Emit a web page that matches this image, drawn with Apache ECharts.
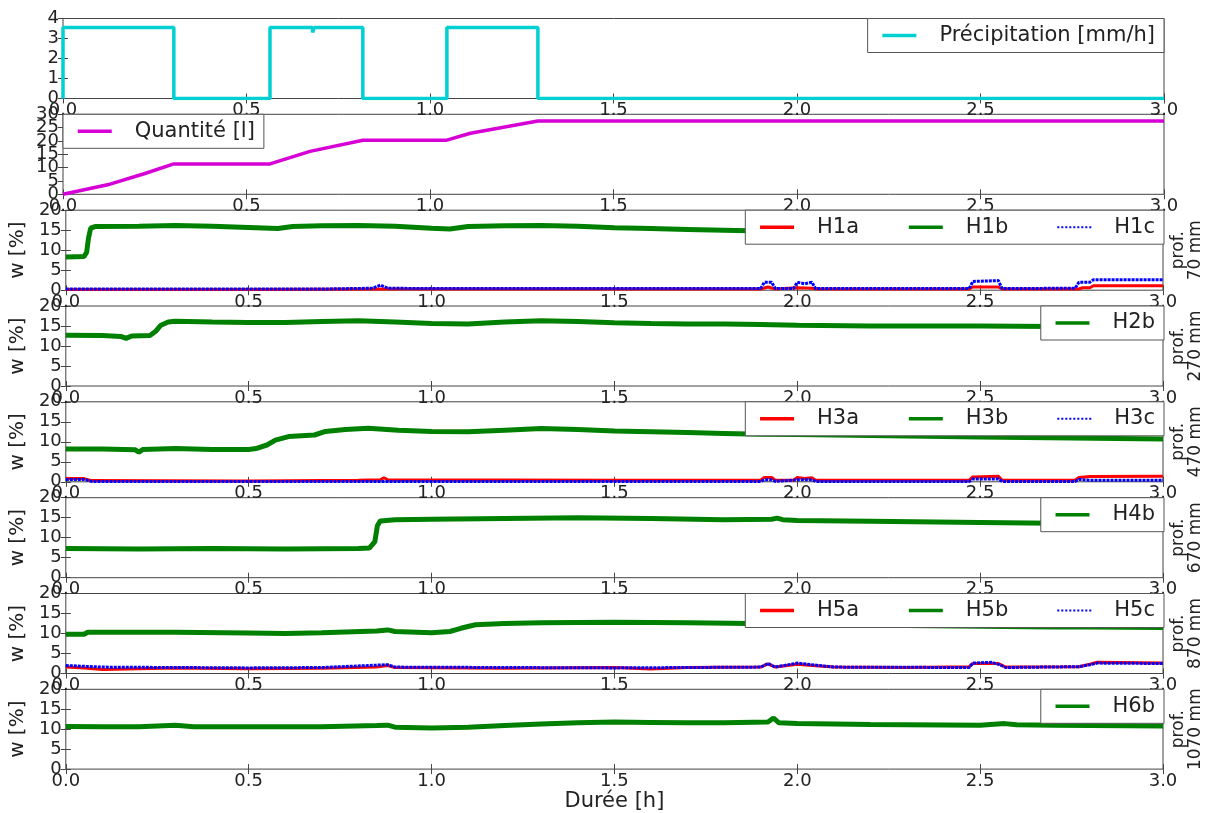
<!DOCTYPE html>
<html><head><meta charset="utf-8">
<script src="https://cdn.jsdelivr.net/npm/echarts@6/dist/echarts.min.js"></script>
<style>html,body{margin:0;padding:0;background:#fff}#c{width:1212px;height:813px}</style>
</head><body><div id="c"></div>
<script>
// ---------- DATA (time [h], value) ----------
const xTickLabels = ['0.0','0.5','1.0','1.5','2.0','2.5','3.0'];
const precipitation = [[0,0],[0,3.55],[0.302,0],[0.564,3.55],[0.68,3.3],[0.685,3.55],[0.817,0],[1.046,3.55],[1.294,0],[3,0]];
const quantite = [[0,0],[0.128,3.8],[0.219,7.6],[0.302,11.4],[0.564,11.4],[0.673,16.1],[0.817,20.3],[1.046,20.3],[1.11,22.9],[1.294,27.5],[3,27.5]];

const H1a = [[0,0.2],[0.5,0.2],[0.9,0.3],[1.5,0.3],[1.9,0.3],[1.92,0.8],[1.94,0.3],[2.0,0.6],[2.04,0.5],[2.06,0.3],[2.47,0.3],[2.48,0.8],[2.55,0.8],[2.56,0.3],[2.77,0.3],[2.78,0.6],[2.8,0.6],[2.81,1.1],[3.0,1.1]];
const H1b = [[0,8.3],[0.05,8.4],[0.057,9.5],[0.062,13],[0.068,15.5],[0.08,15.9],[0.2,16.0],[0.3,16.2],[0.4,16.0],[0.5,15.7],[0.58,15.4],[0.62,15.9],[0.7,16.1],[0.8,16.2],[0.9,16.0],[1.0,15.5],[1.05,15.3],[1.1,15.9],[1.2,16.1],[1.3,16.2],[1.4,16.0],[1.5,15.6],[1.6,15.4],[1.7,15.2],[1.8,15.0],[1.9,14.8],[2.0,14.7],[2.5,14.4],[3.0,14.2]];
const H1c = [[0,0.3],[0.7,0.3],[0.84,0.5],[0.86,1.3],[0.88,0.5],[1.0,0.4],[1.5,0.4],[1.9,0.4],[1.91,2.0],[1.93,2.0],[1.94,0.4],[1.99,0.4],[2.0,2.0],[2.02,1.6],[2.04,2.0],[2.05,0.4],[2.47,0.4],[2.48,2.2],[2.55,2.4],[2.56,0.4],[2.76,0.5],[2.77,2.0],[2.8,2.0],[2.81,2.6],[3.0,2.6]];

const H2b = [[0,12.7],[0.1,12.6],[0.15,12.4],[0.165,11.9],[0.18,12.5],[0.23,12.6],[0.245,13.6],[0.26,15.2],[0.28,16.0],[0.3,16.2],[0.4,16.0],[0.5,15.9],[0.6,15.9],[0.7,16.1],[0.8,16.3],[0.9,16.0],[1.0,15.6],[1.1,15.5],[1.2,16.0],[1.3,16.3],[1.4,16.1],[1.5,15.8],[1.6,15.6],[1.7,15.5],[1.8,15.5],[1.9,15.4],[2.0,15.2],[2.2,15.0],[2.5,15.0],[2.7,14.9],[3.0,14.8]];

const H3a = [[0,0.8],[0.05,0.8],[0.07,0.3],[0.5,0.2],[0.8,0.4],[0.86,0.5],[0.87,1.0],[0.88,0.5],[1.5,0.4],[1.9,0.4],[1.91,1.1],[1.93,1.1],[1.94,0.4],[1.99,0.4],[2.0,1.1],[2.02,0.8],[2.04,1.0],[2.05,0.4],[2.47,0.4],[2.48,1.2],[2.55,1.4],[2.56,0.4],[2.76,0.4],[2.77,1.1],[2.8,1.3],[3.0,1.4]];
const H3b = [[0,8.2],[0.1,8.2],[0.19,8.0],[0.2,7.4],[0.21,8.1],[0.3,8.3],[0.4,8.1],[0.5,8.1],[0.52,8.3],[0.55,9.2],[0.573,10.4],[0.609,11.3],[0.68,11.7],[0.71,12.6],[0.764,13.1],[0.827,13.4],[0.909,12.9],[1.0,12.6],[1.1,12.5],[1.2,12.9],[1.3,13.3],[1.4,13.1],[1.5,12.7],[1.6,12.5],[1.7,12.3],[1.8,12.1],[1.9,11.9],[2.0,11.8],[2.5,11.2],[3.0,10.7]];
const H3c = [[0,0.6],[0.05,0.6],[0.07,0.1],[1.9,0.1],[1.91,0.5],[1.93,0.5],[1.94,0.1],[2.0,0.5],[2.04,0.5],[2.05,0.1],[2.47,0.1],[2.48,0.7],[2.55,0.7],[2.56,0.1],[2.76,0.1],[2.77,0.6],[2.8,0.4],[3.0,0.4]];

const H4b = [[0,7.3],[0.2,7.2],[0.4,7.3],[0.6,7.2],[0.8,7.3],[0.83,7.4],[0.845,9],[0.852,13],[0.86,14.2],[0.9,14.5],[1.0,14.6],[1.2,14.8],[1.4,15.0],[1.6,14.8],[1.8,14.5],[1.93,14.6],[1.945,14.9],[1.96,14.5],[2.0,14.3],[2.2,14.1],[2.5,13.8],[2.7,13.6],[3.0,13.4]];

const H5a = [[0,1.6],[0.05,1.4],[0.1,1.0],[0.2,1.2],[0.3,1.4],[0.5,1.2],[0.7,1.3],[0.85,1.6],[0.88,2.0],[0.9,1.5],[1.2,1.3],[1.5,1.5],[1.6,1.1],[1.7,1.5],[1.9,1.6],[1.92,2.4],[1.94,1.6],[2.0,2.3],[2.04,2.0],[2.1,1.6],[2.3,1.5],[2.47,1.7],[2.48,2.5],[2.55,2.5],[2.57,1.6],[2.77,1.7],[2.8,2.3],[2.82,2.8],[3.0,2.6]];
const H5b = [[0,9.8],[0.05,9.8],[0.06,10.3],[0.3,10.3],[0.5,10.1],[0.6,10.0],[0.7,10.2],[0.85,10.6],[0.88,10.9],[0.9,10.5],[1.0,10.2],[1.05,10.5],[1.08,11.3],[1.12,12.2],[1.2,12.5],[1.3,12.7],[1.5,12.8],[1.7,12.7],[1.87,12.5],[2.0,12.3],[2.3,12.0],[2.5,11.8],[2.7,11.6],[2.8,11.6],[3.0,11.5]];
const H5c = [[0,2.0],[0.05,1.8],[0.1,1.6],[0.3,1.5],[0.5,1.4],[0.7,1.5],[0.88,2.2],[0.9,1.6],[1.2,1.5],[1.5,1.4],[1.9,1.6],[1.92,2.5],[1.94,1.6],[2.0,2.6],[2.04,2.2],[2.1,1.6],[2.47,1.5],[2.48,2.6],[2.53,2.8],[2.55,2.3],[2.57,1.5],[2.77,1.7],[2.8,2.2],[2.82,2.6],[3.0,2.5]];

const H6b = [[0,10.7],[0.1,10.6],[0.2,10.6],[0.3,11.0],[0.35,10.6],[0.5,10.6],[0.7,10.6],[0.85,10.9],[0.88,11.0],[0.9,10.5],[1.0,10.3],[1.1,10.5],[1.2,10.9],[1.3,11.3],[1.4,11.6],[1.5,11.8],[1.6,11.7],[1.7,11.6],[1.8,11.6],[1.92,11.8],[1.935,12.8],[1.95,11.6],[2.0,11.4],[2.2,11.2],[2.5,11.0],[2.567,11.4],[2.6,11.1],[2.7,11.0],[3.0,10.8]];

const depthLabels = ['prof.\n70 mm','prof.\n270 mm','prof.\n470 mm','prof.\n670 mm','prof.\n870 mm','prof.\n1070 mm'];

// ---------- STYLE / LAYOUT ----------
const FONT = 'DejaVu Sans';
const TXT = '#222';
const AX = '#444';
const RED = '#ff0000', GREEN = '#008000', BLUE = '#0000ff';
const tops = [18.5, 114.3, 210.2, 306, 401.8, 497.7, 593.5, 689.3];
const H = 80, LEFT = 63, RIGHT = 48;

const panels = [
  {ymax:4, yint:1, legend:'right', series:[{name:'Précipitation [mm/h]', data:precipitation, color:'#00d0d2', width:3.5, step:'end'}]},
  {ymax:30, yint:5, legend:'left', series:[{name:'Quantité [l]', data:quantite, color:'#d600d6', width:3.5}]},
  {ymax:20, yint:5, depth:depthLabels[0], legend:'right', series:[
    {name:'H1a', data:H1a, color:RED, width:3},
    {name:'H1b', data:H1b, color:GREEN, width:5},
    {name:'H1c', data:H1c, color:BLUE, width:3, dotted:true}]},
  {ymax:20, yint:5, depth:depthLabels[1], legend:'right', series:[{name:'H2b', data:H2b, color:GREEN, width:5}]},
  {ymax:20, yint:5, depth:depthLabels[2], legend:'right', series:[
    {name:'H3a', data:H3a, color:RED, width:3},
    {name:'H3b', data:H3b, color:GREEN, width:5},
    {name:'H3c', data:H3c, color:BLUE, width:3, dotted:true}]},
  {ymax:20, yint:5, depth:depthLabels[3], legend:'right', series:[{name:'H4b', data:H4b, color:GREEN, width:5}]},
  {ymax:20, yint:5, depth:depthLabels[4], legend:'right', series:[
    {name:'H5a', data:H5a, color:RED, width:3},
    {name:'H5b', data:H5b, color:GREEN, width:5},
    {name:'H5c', data:H5c, color:BLUE, width:3, dotted:true}]},
  {ymax:20, yint:5, depth:depthLabels[5], legend:'right', series:[{name:'H6b', data:H6b, color:GREEN, width:5}]}
];

const grid = [], xAxis = [], yAxis = [], series = [], legend = [];
const N = panels.length;
const tickStyle = {show:true, inside:true, length:5, lineStyle:{color:AX, width:1}};
const yLabelBase = {fontSize:18, fontFamily:FONT, color:TXT, margin:4, hideOverlap:false};

panels.forEach((p, i) => {
  grid.push({left:LEFT, right:RIGHT, top:tops[i], height:H, show:true, borderColor:AX, borderWidth:1, backgroundColor:'transparent'});
  const last = i === N - 1;
  xAxis.push({type:'value', gridIndex:i, min:0, max:3, interval:0.5, position:'bottom',
    axisLine:{show:false}, splitLine:{show:false}, axisTick:tickStyle,
    axisLabel:{fontSize:18, fontFamily:FONT, color:TXT, margin:3, showMinLabel:true, showMaxLabel:true, hideOverlap:false,
      formatter:v => xTickLabels[Math.round(v/0.5)]},
    name: last ? 'Durée [h]' : '', nameLocation:'middle', nameGap:21,
    nameTextStyle:{fontSize:21, fontFamily:FONT, color:TXT}});
  yAxis.push({type:'value', gridIndex:i, min:0, max:p.ymax, interval:p.yint, position:'left',
    axisLine:{show:false}, splitLine:{show:false}, axisTick:tickStyle,
    axisLabel:Object.assign({showMinLabel:true, showMaxLabel:true}, yLabelBase),
    name: p.depth ? 'w [%]' : '', nameLocation:'middle', nameRotate:90, nameGap:33,
    nameTextStyle:{fontSize:20, fontFamily:FONT, color:TXT}});
});
panels.forEach((p, i) => {
  xAxis.push({type:'value', gridIndex:i, min:0, max:3, interval:0.5, position:'top',
    axisLine:{show:false}, splitLine:{show:false}, axisTick:tickStyle, axisLabel:{show:false}});
  yAxis.push({type:'value', gridIndex:i, min:0, max:p.ymax, interval:p.yint, position:'right',
    axisLine:{show:false}, splitLine:{show:false}, axisTick:tickStyle, axisLabel:{show:false},
    name: p.depth || '', nameLocation:'middle', nameRotate:90, nameGap:7,
    nameTextStyle:{fontSize:17, lineHeight:17, fontFamily:FONT, color:TXT, align:'center'}});
});
// extra label-only axis for the crowded "Quantité" panel (labels 5 and 25 that get auto-hidden)
yAxis.push({type:'value', gridIndex:1, min:0, max:30, interval:5, position:'left', offset:0,
  axisLine:{show:false}, splitLine:{show:false}, axisTick:{show:false},
  axisLabel:Object.assign({showMinLabel:false, showMaxLabel:false,
    formatter:v => (v === 5 || v === 25) ? String(v) : ''}, yLabelBase)});

panels.forEach((p, i) => {
  p.series.forEach(s => {
    series.push({type:'line', name:s.name, xAxisIndex:i, yAxisIndex:i, data:s.data,
      symbol:'none', showSymbol:false, step:s.step || false, animation:false, silent:true,
      color:s.color,
      lineStyle:{color:s.color, width:s.width, type: s.dotted ? [3,1] : 'solid'}});
  });
  const lg = {
    show:true, top:tops[i], itemWidth:34, itemHeight:14, itemGap:48, orient:'horizontal',
    backgroundColor:'#fff', borderColor:'#555', borderWidth:1, borderRadius:0,
    padding:[5,9,5,13], selectedMode:false, z:10,
    itemStyle:{opacity:0, borderWidth:0},
    textStyle:{fontSize:21, fontFamily:FONT, color:TXT, lineHeight:24, padding:[0,0,0,18]},
    data: p.series.map(s => ({name:s.name,
      itemStyle:{opacity:0, borderWidth:0},
      lineStyle: s.dotted ? {color:s.color, width:2, type:'dotted', opacity:1} : {color:s.color, width:3.5, opacity:1}}))
  };
  if (p.legend === 'left') lg.left = LEFT; else lg.right = RIGHT;
  legend.push(lg);
});

const chart = echarts.init(document.getElementById('c'), null, {renderer:'canvas'});
chart.setOption({backgroundColor:'#fff', animation:false, grid, xAxis, yAxis, series, legend});
</script>
</body></html>
